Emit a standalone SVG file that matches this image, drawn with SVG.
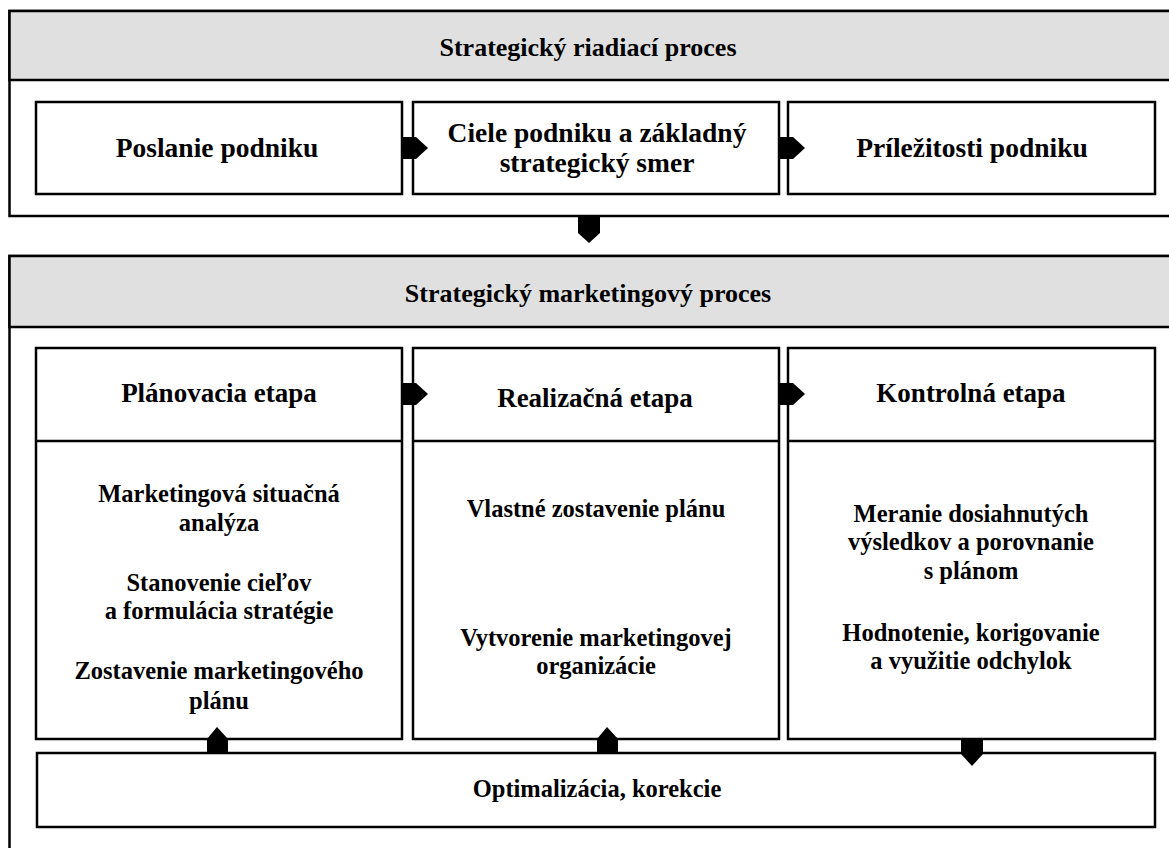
<svg xmlns="http://www.w3.org/2000/svg" width="1169" height="848" viewBox="0 0 1169 848">
<style>
.box{fill:#fff;stroke:#000;stroke-width:2.5}
.hdr{fill:#e0e0e0;stroke:#000;stroke-width:2.5}
.ln{stroke:#000;stroke-width:2.5;fill:none}
.arr{fill:#000;stroke:none}
.t{font-family:'Liberation Serif','Times New Roman','DejaVu Serif',serif;font-weight:700;font-size:26px;fill:#000;text-anchor:middle}
.ti{font-size:27.5px}
.st{font-size:27px}
.c{font-size:24.5px}
</style>
<rect width="1169" height="848" fill="#fff"/>
<g id="strategic-management">
<rect class="box" x="9.5" y="11" width="1180" height="205"/>
<rect class="hdr" x="9.5" y="11" width="1180" height="69"/>
<text class="t" x="588" y="56">Strategický riadiací proces</text>
</g>
<g id="poslanie"><rect class="box" x="36" y="102" width="366" height="92"/><text class="t ti" x="217" y="157">Poslanie podniku</text></g>
<g id="ciele"><rect class="box" x="413" y="102" width="366" height="92"/><text class="t ti" x="597" y="142">Ciele podniku a základný</text><text class="t ti" x="597" y="172">strategický smer</text></g>
<g id="prilezitosti"><rect class="box" x="788" y="102" width="367" height="92"/><text class="t ti" x="972" y="157">Príležitosti podniku</text></g>
<g id="strategic-marketing">
<rect class="box" x="9.5" y="256" width="1180" height="620"/>
<rect class="hdr" x="9.5" y="256" width="1180" height="71"/>
<text class="t" x="588" y="302">Strategický marketingový proces</text>
</g>
<g id="planovacia">
<rect class="box" x="36" y="348" width="366" height="391"/>
<line class="ln" x1="36" y1="441" x2="402" y2="441"/>
<text class="t st" x="219" y="402">Plánovacia etapa</text>
<text class="t c" x="219" y="502">Marketingová situačná</text>
<text class="t c" x="219" y="531">analýza</text>
<text class="t c" x="219" y="591">Stanovenie cieľov</text>
<text class="t c" x="219" y="619">a formulácia stratégie</text>
<text class="t c" x="219" y="679">Zostavenie marketingového</text>
<text class="t c" x="219" y="709">plánu</text>
</g>
<g id="realizacna">
<rect class="box" x="413" y="348" width="366" height="391"/>
<line class="ln" x1="413" y1="441" x2="779" y2="441"/>
<text class="t st" x="595" y="407">Realizačná etapa</text>
<text class="t c" x="596" y="517">Vlastné zostavenie plánu</text>
<text class="t c" x="596" y="646">Vytvorenie marketingovej</text>
<text class="t c" x="596" y="674">organizácie</text>
</g>
<g id="kontrolna">
<rect class="box" x="788" y="348" width="367" height="391"/>
<line class="ln" x1="788" y1="441" x2="1155" y2="441"/>
<text class="t st" x="971" y="402">Kontrolná etapa</text>
<text class="t c" x="971" y="522">Meranie dosiahnutých</text>
<text class="t c" x="971" y="550">výsledkov a porovnanie</text>
<text class="t c" x="971" y="579">s plánom</text>
<text class="t c" x="971" y="641">Hodnotenie, korigovanie</text>
<text class="t c" x="971" y="669">a využitie odchylok</text>
</g>
<g id="optimalizacia"><rect class="box" x="37" y="753" width="1118" height="74"/><text class="t c" x="597" y="797">Optimalizácia, korekcie</text></g>
<g id="connectors">
<path class="arr" d="M401 137H416L428 148L416 159H401Z"/>
<path class="arr" d="M778 137H793L805 148L793 159H778Z"/>
<path class="arr" d="M578 216V233L589 243L600 233V216Z"/>
<path class="arr" d="M401 383H416L428 394L416 405H401Z"/>
<path class="arr" d="M778 383H793L805 394L793 405H778Z"/>
<path class="arr" d="M207 753V739L217 727L228 739V753Z"/>
<path class="arr" d="M597 753V739L607 727L618 739V753Z"/>
<path class="arr" d="M961 739V754L972 766L983 754V739Z"/>
</g>
</svg>
